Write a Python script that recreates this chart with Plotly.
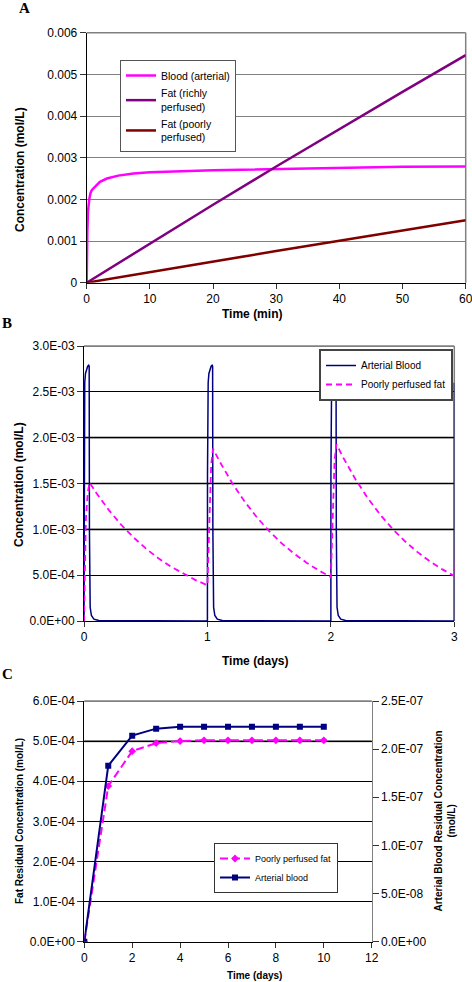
import plotly.graph_objects as go

W, H = 472, 982

# ---------------- Panel A data ----------------
a_blood_t = [0, 0.02, 0.05, 0.1, 0.2, 0.3, 0.4, 0.6, 0.8, 1.3, 2.1, 3.2, 5, 7.4, 10, 20, 30, 40, 50, 60]
a_blood_c = [0, 0.0005, 0.0008, 0.0012, 0.0017, 0.0019, 0.0020, 0.00215, 0.00222, 0.0023, 0.00242,
             0.0025, 0.00257, 0.00262, 0.00265, 0.0027, 0.00273, 0.00276, 0.00278, 0.00279]
a_rich_t = [0, 10, 20, 30, 40, 50, 60]
a_rich_c = [0, 0.00094, 0.00187, 0.00279, 0.00369, 0.00458, 0.00546]
a_poor_t = [0, 30, 60]
a_poor_c = [0, 0.00076, 0.0015]
a_yticks = [0, 0.001, 0.002, 0.003, 0.004, 0.005, 0.006]
a_yticktext = ["0", "0.001", "0.002", "0.003", "0.004", "0.005", "0.006"]
a_xticks = [0, 10, 20, 30, 40, 50, 60]

# ---------------- Panel B data ----------------
b_blood_t = [0, 0.0005, 0.002, 0.006, 0.012, 0.02, 0.03, 0.038, 0.042, 0.044, 0.046, 0.05, 0.06, 0.08, 0.12,
             1.0, 1.0005, 1.002, 1.006, 1.012, 1.02, 1.03, 1.038, 1.042, 1.044, 1.046, 1.05, 1.06, 1.08, 1.12,
             2.0, 2.0005, 2.002, 2.006, 2.012, 2.02, 2.03, 2.038, 2.042, 2.044, 2.046, 2.05, 2.06, 2.08, 2.12,
             3.0, 3.0]
b_blood_c = [0, 1.6e-3, 2.3e-3, 2.6e-3, 2.7e-3, 2.75e-3, 2.78e-3, 2.79e-3, 2.78e-3, 1.0e-3, 0.3e-3, 0.15e-3, 0.06e-3, 0.02e-3, 0.005e-3,
             0, 1.6e-3, 2.3e-3, 2.6e-3, 2.7e-3, 2.75e-3, 2.78e-3, 2.79e-3, 2.78e-3, 1.0e-3, 0.3e-3, 0.15e-3, 0.06e-3, 0.02e-3, 0.005e-3,
             0, 1.6e-3, 2.3e-3, 2.6e-3, 2.68e-3, 2.72e-3, 2.75e-3, 2.76e-3, 2.75e-3, 1.0e-3, 0.3e-3, 0.15e-3, 0.06e-3, 0.02e-3, 0.005e-3,
             0, 2.6e-3]
b_fat_t = [0, 0.005, 0.015, 0.03, 0.045, 0.1, 0.2, 0.3, 0.4, 0.5, 0.6, 0.7, 0.8, 0.9, 1.0,
           1.005, 1.015, 1.03, 1.045, 1.1, 1.2, 1.3, 1.4, 1.5, 1.6, 1.7, 1.8, 1.9, 2.0,
           2.005, 2.015, 2.03, 2.045, 2.1, 2.2, 2.3, 2.4, 2.5, 2.6, 2.7, 2.8, 2.9, 3.0, 3.0]
b_fat_c = [0, 0.6e-3, 1.1e-3, 1.4e-3, 1.51e-3, 1.397e-3, 1.212e-3, 1.052e-3, 0.913e-3, 0.792e-3, 0.687e-3, 0.596e-3, 0.518e-3, 0.449e-3, 0.39e-3,
           0.62e-3, 1.2e-3, 1.7e-3, 1.88e-3, 1.737e-3, 1.506e-3, 1.306e-3, 1.132e-3, 0.981e-3, 0.850e-3, 0.737e-3, 0.639e-3, 0.553e-3, 0.48e-3,
           0.7e-3, 1.25e-3, 1.75e-3, 1.93e-3, 1.783e-3, 1.545e-3, 1.339e-3, 1.160e-3, 1.005e-3, 0.870e-3, 0.754e-3, 0.653e-3, 0.566e-3, 0.49e-3, 0.68e-3]
b_yticks = [0, 5e-4, 1e-3, 1.5e-3, 2e-3, 2.5e-3, 3e-3]
b_yticktext = ["0.0E+00", "5.0E-04", "1.0E-03", "1.5E-03", "2.0E-03", "2.5E-03", "3.0E-03"]
b_gray_grid = [1e-3, 1.5e-3, 2e-3, 3e-3]
b_xticks = [0, 1, 2, 3]

# ---------------- Panel C data ----------------
c_days = [0, 1, 2, 3, 4, 5, 6, 7, 8, 9, 10]
c_fat = [0, 3.88e-4, 4.75e-4, 4.95e-4, 5.0e-4, 5.02e-4, 5.02e-4, 5.02e-4, 5.02e-4, 5.02e-4, 5.02e-4]
c_blood = [0, 1.828e-7, 2.14e-7, 2.213e-7, 2.233e-7, 2.233e-7, 2.233e-7, 2.233e-7, 2.233e-7, 2.233e-7, 2.233e-7]
c_lticks = [0, 1e-4, 2e-4, 3e-4, 4e-4, 5e-4, 6e-4]
c_lticktext = ["0.0E+00", "1.0E-04", "2.0E-04", "3.0E-04", "4.0E-04", "5.0E-04", "6.0E-04"]
c_rticks = [0, 5e-8, 1e-7, 1.5e-7, 2e-7, 2.5e-7]
c_rticktext = ["0.0E+00", "5.0E-08", "1.0E-07", "1.5E-07", "2.0E-07", "2.5E-07"]
c_gray_grid = [5e-4, 6e-4]
c_xticks = [0, 2, 4, 6, 8, 10, 12]

FONT = "Liberation Sans, Arial, sans-serif"
SERIF = "Liberation Serif, Times New Roman, serif"
MAGENTA = "#FF00FF"
PURPLE = "#800080"
DARKRED = "#800000"
NAVY = "#000080"
GRAY = "#808080"


def px(x):
    return x / W


def py(y):
    return 1 - y / H


fig = go.Figure()

# Panel A traces
fig.add_trace(go.Scatter(x=a_blood_t, y=a_blood_c, mode="lines", name="Blood (arterial)",
                         line=dict(color=MAGENTA, width=2.5), xaxis="x", yaxis="y", legend="legend"))
fig.add_trace(go.Scatter(x=a_rich_t, y=a_rich_c, mode="lines", name="Fat (richly<br>perfused)",
                         line=dict(color=PURPLE, width=2.5), xaxis="x", yaxis="y", legend="legend"))
fig.add_trace(go.Scatter(x=a_poor_t, y=a_poor_c, mode="lines", name="Fat (poorly<br>perfused)",
                         line=dict(color=DARKRED, width=2.5), xaxis="x", yaxis="y", legend="legend"))

# Panel B traces
fig.add_trace(go.Scatter(x=b_blood_t, y=b_blood_c, mode="lines", name="Arterial Blood",
                         line=dict(color=NAVY, width=1.5), xaxis="x2", yaxis="y2", legend="legend2"))
fig.add_trace(go.Scatter(x=b_fat_t, y=b_fat_c, mode="lines", name="Poorly perfused fat",
                         line=dict(color=MAGENTA, width=1.8, dash="6px,4px"), xaxis="x2", yaxis="y2",
                         legend="legend2"))

# Panel C traces
fig.add_trace(go.Scatter(x=c_days, y=c_fat, mode="lines+markers", name="Poorly perfused fat",
                         line=dict(color=MAGENTA, width=2, dash="8px,4px"),
                         marker=dict(symbol="diamond", size=6, color=MAGENTA),
                         xaxis="x3", yaxis="y3", legend="legend3"))
fig.add_trace(go.Scatter(x=c_days, y=c_blood, mode="lines+markers", name="Arterial blood",
                         line=dict(color=NAVY, width=2),
                         marker=dict(symbol="square", size=6, color=NAVY),
                         xaxis="x3", yaxis="y4", legend="legend3"))

tickfont = dict(family=FONT, size=12, color="black")
common_x = dict(showgrid=False, zeroline=False, showline=True, linecolor="black", linewidth=1,
                ticks="outside", ticklen=5, tickcolor="#333", tickfont=tickfont, automargin=False,
                ticklabeloverflow="allow")
common_y = dict(zeroline=False, showline=True, linecolor="black", linewidth=1,
                ticks="outside", ticklen=6, tickcolor="#333", tickfont=tickfont, automargin=False,
                ticklabeloverflow="allow")

# Plot-area boxes (window pixels)
A = dict(x0=86.7, x1=465.7, y0=32.7, y1=282.7)
B = dict(x0=84.0, x1=454.3, y0=346.0, y1=621.0)
C = dict(x0=84.3, x1=371.7, y0=701.0, y1=941.7)

fig.update_layout(
    width=W, height=H, autosize=False,
    margin=dict(l=0, r=0, t=0, b=0),
    paper_bgcolor="white", plot_bgcolor="white",
    font=dict(family=FONT, color="black"),
    xaxis=dict(common_x, domain=[px(A["x0"]), px(A["x1"])], anchor="y", range=[0, 60],
               tickvals=a_xticks),
    yaxis=dict(common_y, domain=[py(A["y1"]), py(A["y0"])], anchor="x", range=[0, 0.006],
               tickvals=a_yticks, ticktext=a_yticktext, showgrid=True, gridcolor=GRAY, gridwidth=1),
    xaxis2=dict(common_x, domain=[px(B["x0"]), px(B["x1"])], anchor="y2", range=[0, 3],
                tickvals=b_xticks),
    yaxis2=dict(common_y, domain=[py(B["y1"]), py(B["y0"])], anchor="x2", range=[0, 3e-3],
                tickvals=b_yticks, ticktext=b_yticktext, showgrid=True, gridcolor="black", gridwidth=1),
    xaxis3=dict(common_x, domain=[px(C["x0"]), px(C["x1"])], anchor="y3", range=[0, 12],
                tickvals=c_xticks),
    yaxis3=dict(common_y, domain=[py(C["y1"]), py(C["y0"])], anchor="x3", range=[0, 6e-4],
                tickvals=c_lticks, ticktext=c_lticktext, showgrid=True, gridcolor="black", gridwidth=1),
    yaxis4=dict(common_y, overlaying="y3", side="right", anchor="x3", range=[0, 2.5e-7],
                tickvals=c_rticks, ticktext=c_rticktext, showgrid=False, linecolor=GRAY),
    legend=dict(x=px(120), y=py(60), xanchor="left", yanchor="top", bgcolor="white",
                bordercolor="#555", borderwidth=1, font=dict(family=FONT, size=10.5, color="black"),
                itemwidth=30),
    legend2=dict(x=px(453), y=py(349), xanchor="right", yanchor="top", bgcolor="white",
                 bordercolor="#444", borderwidth=2, font=dict(family=FONT, size=10, color="black"),
                 itemwidth=30),
    legend3=dict(x=px(276), y=py(843), xanchor="center", yanchor="top", bgcolor="white",
                 bordercolor="#333", borderwidth=1, font=dict(family=FONT, size=9, color="black"),
                 itemwidth=30),
    showlegend=True,
)

shapes = []
# Top/right borders (gray)
for xa, ya in [("x", "y"), ("x2", "y2"), ("x3", "y3")]:
    shapes.append(dict(type="line", xref=f"{xa} domain", yref=f"{ya} domain", x0=0, x1=1, y0=1, y1=1,
                       line=dict(color=GRAY, width=1.5), layer="below"))
for xa, ya in [("x", "y"), ("x2", "y2")]:
    shapes.append(dict(type="line", xref=f"{xa} domain", yref=f"{ya} domain", x0=1, x1=1, y0=0, y1=1,
                       line=dict(color=GRAY, width=1.5), layer="below"))
# Thicker gray grid lines
for v in b_gray_grid:
    shapes.append(dict(type="line", xref="x2 domain", yref="y2", x0=0, x1=1, y0=v, y1=v,
                       line=dict(color=GRAY, width=2.2), layer="below"))
for v in c_gray_grid:
    shapes.append(dict(type="line", xref="x3 domain", yref="y3", x0=0, x1=1, y0=v, y1=v,
                       line=dict(color=GRAY, width=2.2), layer="below"))
fig.update_layout(shapes=shapes)


def title(text, x, y, size, angle=0):
    return dict(text=f"<b>{text}</b>", x=px(x), y=py(y), xref="paper", yref="paper",
                showarrow=False, textangle=angle, xanchor="center", yanchor="middle",
                font=dict(family=FONT, size=size, color="black"))


annotations = [
    title("Concentration (mol/L)", 20, 170, 12, -90),
    title("Time (min)", 252, 314, 12),
    title("Concentration (mol/L)", 19, 485, 12, -90),
    title("Time (days)", 255, 661, 12),
    title("Fat Residual Concentration (mol/L)", 19, 821, 10, -90),
    title("Arterial Blood Residual Concentration<br>(mol/L)", 444.5, 821, 10, -90),
    title("Time (days)", 254, 975, 10),
]
for lab, x, y in [("A", 24, 8), ("B", 7, 323), ("C", 7, 674)]:
    annotations.append(dict(text=f"<b>{lab}</b>", x=px(x), y=py(y), xref="paper", yref="paper",
                            showarrow=False, xanchor="center", yanchor="middle",
                            font=dict(family=SERIF, size=15, color="black")))
fig.update_layout(annotations=annotations)

fig.write_html("out.html", config={"displayModeBar": False},
               post_script="document.body.style.margin='0';")
